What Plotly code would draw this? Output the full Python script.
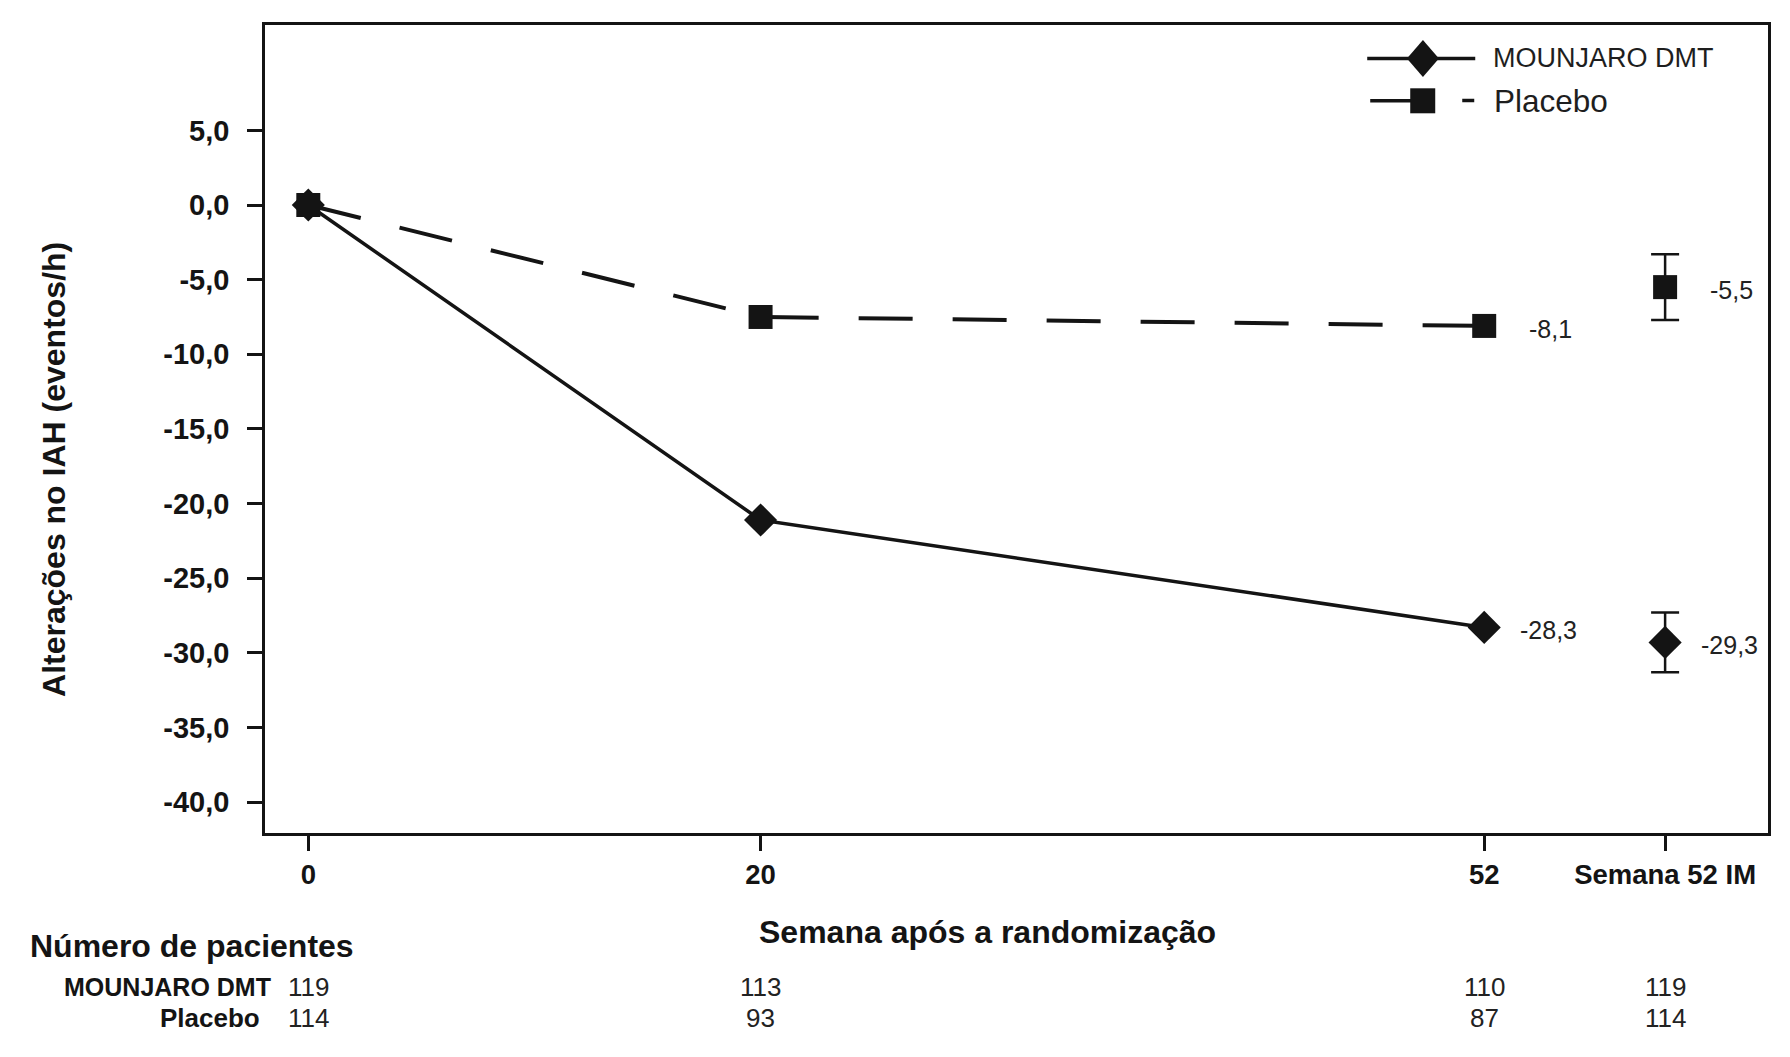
import plotly.graph_objects as go

# ---------------- data ----------------
WEEKS = [0, 20, 52]
MOUNJARO = [0.0, -21.1, -28.3]
PLACEBO = [0.0, -7.5, -8.1]

IM_X = 60  # position of the "Semana 52 IM" category on the x axis
MOUNJARO_IM = -29.3
MOUNJARO_IM_ERR = 2.0
PLACEBO_IM = -5.5
PLACEBO_IM_ERR = 2.2

X_TICKVALS = [0, 20, 52, 60]
X_TICKTEXT = ["0", "20", "52", "Semana 52 IM"]
Y_TICKVALS = [5, 0, -5, -10, -15, -20, -25, -30, -35, -40]
Y_TICKTEXT = ["5,0", "0,0", "-5,0", "-10,0", "-15,0", "-20,0", "-25,0", "-30,0", "-35,0", "-40,0"]

N_MOUNJARO = [119, 113, 110, 119]
N_PLACEBO = [114, 93, 87, 114]

SERIES_NAMES = ["MOUNJARO DMT", "Placebo"]

# ---------------- layout constants ----------------
OFF = 8                       # page body margin in the browser
W, H = 1790 - OFF, 1057 - OFF
PL, PT, PR, PB = 265, 25, 1767.7, 833   # plot frame in screenshot pixels
ML, MT = PL - OFF, PT - OFF
MR = W - (PR - OFF)
MB = H - (PB - OFF)
PW = PR - PL
PH = PB - PT
FONT = "Liberation Sans, Arial, Helvetica, sans-serif"
INK = "#141414"
ROW1_Y, ROW2_Y = 986.5, 1018


def px(x):
    return (x - PL) / PW


def py(y):
    return (PB - y) / PH


def fmt(v):
    return f"{v:.1f}".replace(".", ",")


fig = go.Figure()

# Placebo (dashed)
fig.add_trace(go.Scatter(
    x=WEEKS, y=PLACEBO, mode="lines+markers", name=SERIES_NAMES[1],
    line=dict(color=INK, width=4, dash="54px,40px"),
    marker=dict(symbol="square", size=24, color=INK, line=dict(width=0)),
    showlegend=False, hoverinfo="skip",
))
# MOUNJARO (solid)
fig.add_trace(go.Scatter(
    x=WEEKS, y=MOUNJARO, mode="lines+markers", name=SERIES_NAMES[0],
    line=dict(color=INK, width=3.5),
    marker=dict(symbol="diamond", size=25.5, color=INK, line=dict(width=0)),
    showlegend=False, hoverinfo="skip",
))
# Week 52 IM points with error bars
fig.add_trace(go.Scatter(
    x=[IM_X], y=[PLACEBO_IM], mode="markers",
    marker=dict(symbol="square", size=24, color=INK, line=dict(width=0)),
    error_y=dict(type="data", array=[PLACEBO_IM_ERR], color=INK, thickness=2.5, width=14),
    showlegend=False, hoverinfo="skip",
))
fig.add_trace(go.Scatter(
    x=[IM_X], y=[MOUNJARO_IM], mode="markers",
    marker=dict(symbol="diamond", size=25.5, color=INK, line=dict(width=0)),
    error_y=dict(type="data", array=[MOUNJARO_IM_ERR], color=INK, thickness=2.5, width=14),
    showlegend=False, hoverinfo="skip",
))

annotations = []

# value labels
label_specs = [
    (WEEKS[-1], PLACEBO[-1], 43),
    (WEEKS[-1], MOUNJARO[-1], 34),
    (IM_X, PLACEBO_IM, 43),
    (IM_X, MOUNJARO_IM, 34),
]
for xv, yv, xs in label_specs:
    annotations.append(dict(
        x=xv, y=yv, xref="x", yref="y", text=fmt(yv), showarrow=False,
        xanchor="left", yanchor="middle", xshift=xs, yshift=-3,
        font=dict(family=FONT, size=25, color="#222"),
    ))

# axis titles
annotations.append(dict(
    x=px(54), y=py(469), xref="paper", yref="paper",
    text="Alterações no IAH (eventos/h)", textangle=-90, showarrow=False,
    xanchor="center", yanchor="middle",
    font=dict(family=FONT, size=32, color=INK, weight="bold"),
))
annotations.append(dict(
    x=px(987.5), y=py(932), xref="paper", yref="paper",
    text="Semana após a randomização", showarrow=False,
    xanchor="center", yanchor="middle",
    font=dict(family=FONT, size=32, color=INK, weight="bold"),
))

# number at risk table
annotations.append(dict(
    x=px(28), y=py(946), xref="paper", yref="paper",
    text="Número de pacientes", showarrow=False,
    xanchor="left", yanchor="middle",
    font=dict(family=FONT, size=32, color=INK, weight="bold"),
))
annotations.append(dict(
    x=px(272), y=py(ROW1_Y), xref="paper", yref="paper", borderpad=0,
    text=SERIES_NAMES[0], showarrow=False, xanchor="right", yanchor="middle",
    font=dict(family=FONT, size=25, color=INK, weight="bold"),
))
annotations.append(dict(
    x=px(261), y=py(ROW2_Y), xref="paper", yref="paper", borderpad=0,
    text=SERIES_NAMES[1], showarrow=False, xanchor="right", yanchor="middle",
    font=dict(family=FONT, size=26, color=INK, weight="bold"),
))
for xv, n1, n2 in zip(X_TICKVALS, N_MOUNJARO, N_PLACEBO):
    annotations.append(dict(
        x=xv, y=py(ROW1_Y), xref="x", yref="paper", text=str(n1), showarrow=False,
        xanchor="center", yanchor="middle", borderpad=0,
        font=dict(family=FONT, size=26, color="#222"),
    ))
    annotations.append(dict(
        x=xv, y=py(ROW2_Y), xref="x", yref="paper", text=str(n2), showarrow=False,
        xanchor="center", yanchor="middle", borderpad=0,
        font=dict(family=FONT, size=26, color="#222"),
    ))

# custom legend (top right, inside the frame)
annotations.append(dict(
    x=px(1491), y=py(58), xref="paper", yref="paper", text=SERIES_NAMES[0],
    showarrow=False, xanchor="left", yanchor="middle",
    font=dict(family=FONT, size=27, color="#1e1e1e"),
))
annotations.append(dict(
    x=px(1492), y=py(101), xref="paper", yref="paper", text=SERIES_NAMES[1],
    showarrow=False, xanchor="left", yanchor="middle",
    font=dict(family=FONT, size=31.5, color="#1e1e1e"),
))

shapes = []
# row 1: solid line + diamond
shapes.append(dict(type="line", xref="paper", yref="paper",
                   x0=px(1367), x1=px(1475), y0=py(58.5), y1=py(58.5),
                   line=dict(color=INK, width=3.5)))
cx, cy, hw, hh = 1422.7, 58.5, 16, 18.5
shapes.append(dict(
    type="path", xref="paper", yref="paper",
    path=(f"M {px(cx - hw)},{py(cy)} L {px(cx)},{py(cy - hh)} "
          f"L {px(cx + hw)},{py(cy)} L {px(cx)},{py(cy + hh)} Z"),
    fillcolor=INK, line=dict(width=0),
))
# row 2: short line + square + dash
shapes.append(dict(type="line", xref="paper", yref="paper",
                   x0=px(1370), x1=px(1412), y0=py(100.8), y1=py(100.8),
                   line=dict(color=INK, width=3.5)))
shapes.append(dict(type="rect", xref="paper", yref="paper",
                   x0=px(1410), x1=px(1435), y0=py(88.3), y1=py(113.3),
                   fillcolor=INK, line=dict(width=0)))
shapes.append(dict(type="line", xref="paper", yref="paper",
                   x0=px(1462), x1=px(1474), y0=py(100.5), y1=py(100.5),
                   line=dict(color=INK, width=3.5)))

fig.update_layout(
    width=W, height=H,
    margin=dict(l=ML, r=MR, t=MT, b=MB, pad=0),
    paper_bgcolor="white", plot_bgcolor="white",
    font=dict(family=FONT, color=INK),
    showlegend=False,
    annotations=annotations,
    shapes=shapes,
)
fig.update_xaxes(
    range=[-1.915, 64.55], showgrid=False, zeroline=False,
    showline=True, linecolor=INK, linewidth=2.5, mirror=True,
    ticks="outside", ticklen=15, tickwidth=2.5, tickcolor=INK,
    tickvals=X_TICKVALS, ticktext=X_TICKTEXT, ticklabelstandoff=0,
    tickfont=dict(family=FONT, size=27.5, color=INK, weight="bold"),
)
fig.update_yaxes(
    range=[-42.07, 12.06], showgrid=False, zeroline=False,
    showline=True, linecolor=INK, linewidth=2.5, mirror=True,
    ticks="outside", ticklen=15, tickwidth=2.5, tickcolor=INK,
    tickvals=Y_TICKVALS, ticktext=Y_TICKTEXT, ticklabelstandoff=12,
    tickfont=dict(family=FONT, size=29, color=INK, weight="bold"),
)

fig.write_html("out.html")
